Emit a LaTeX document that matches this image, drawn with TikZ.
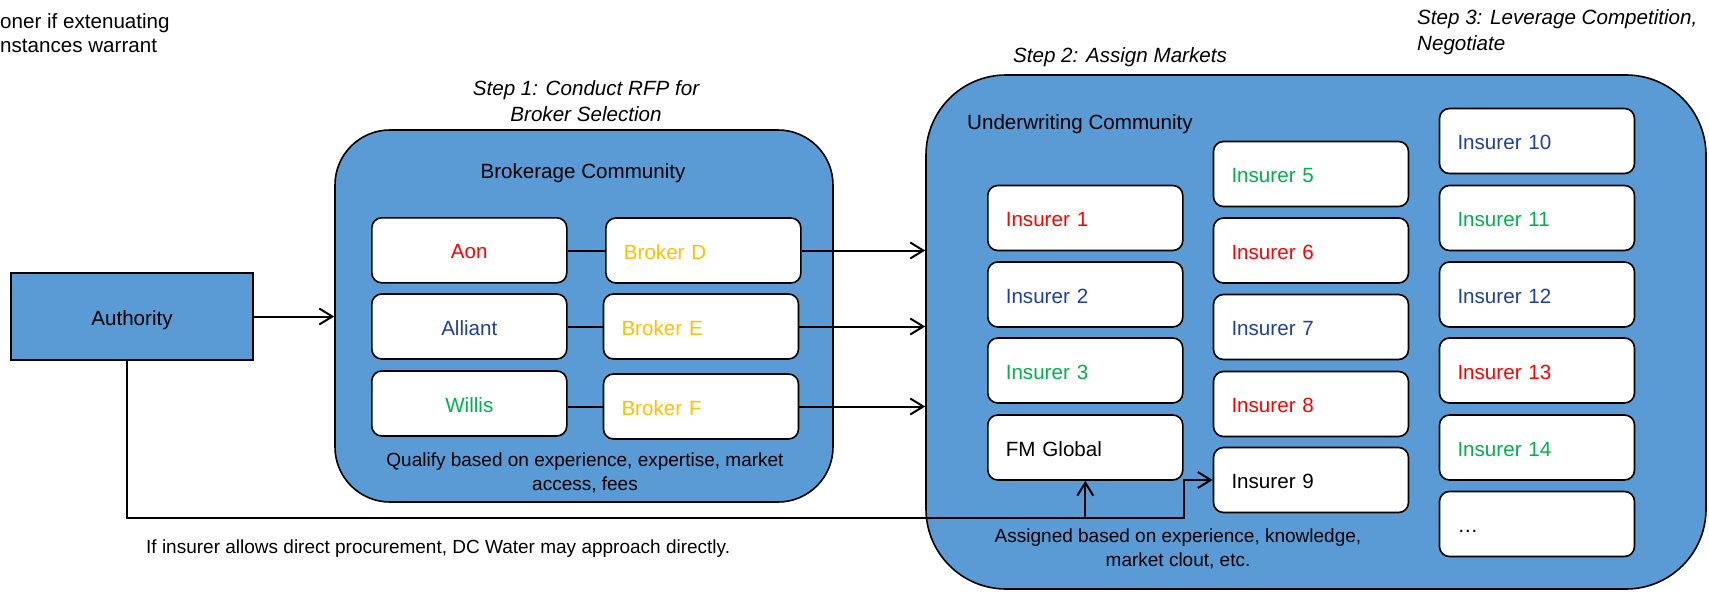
\documentclass[tikz,border=0pt]{standalone}
\usepackage{fontspec}
\setmainfont{Liberation Sans}
\usetikzlibrary{arrows.meta}
\definecolor{fillblue}{HTML}{5B9BD5}
\definecolor{tblue}{HTML}{2040A0}
\definecolor{tgreen}{HTML}{00B050}
\definecolor{tgold}{HTML}{FFC000}
\definecolor{tred}{HTML}{FF0000}
\begin{document}
\begin{tikzpicture}[x=1pt,y=-1pt,
  big/.style={font=\fontsize{20.6}{24.5}\selectfont},
  small/.style={font=\fontsize{19}{23.5}\selectfont},
  oneline/.style={text height=15pt, text depth=0pt},
  stepl/.style={font=\fontsize{20.6}{26}\selectfont\itshape, inner sep=0pt},
  community/.style={draw=black, line width=1.6pt, fill=fillblue, inner sep=0pt},
  itembox/.style={draw=black, line width=1.6pt, fill=white, rounded corners=10pt, big,
    minimum height=65pt, inner xsep=18pt, inner ysep=0pt, text width=159pt,
    text height=17pt, text depth=0pt},
  lbox/.style={itembox, align=left},
  cbox/.style={itembox, align=center},
  conn/.style={line width=2pt},
  arr/.style={conn, -{Straight Barb[length=13pt,width=16pt]}},
]
\useasboundingbox (0,0) rectangle (1709,594);

% free texts
\node[big, anchor=west, align=left, inner sep=0pt] (tl) at (0,33) {oner if extenuating\\nstances warrant};
\node[stepl, align=center] (s1) at (586,101) {Step 1: Conduct RFP for\\Broker Selection};
\node[stepl, oneline] (s2) at (1120,55) {Step 2: Assign Markets};
\node[stepl, anchor=west, align=left] (s3) at (1417,32.5) {Step 3: Leverage Competition,\\Negotiate};
\node[small, oneline, anchor=west, inner sep=0pt] (direct) at (146,546) {If insurer allows direct procurement, DC Water may approach directly.};

% authority
\node[draw=black, line width=1.6pt, fill=fillblue, minimum width=242pt, minimum height=87pt, big,
  text height=17pt, text depth=0pt] (auth) at (132,316.5) {Authority};

% brokerage community
\node[community, rounded corners=55pt, minimum width=498pt, minimum height=372pt] (brok) at (584,316) {};
\node[big, oneline, inner sep=0pt] (brokt) at (583,171) {Brokerage Community};
\node[small, align=center, inner sep=0pt] (qual) at (585,473) {Qualify based on experience, expertise, market\\access, fees};

\node[cbox, text=tred]   (aon)     at (469.3,250.3) {Aon};
\node[cbox, text=tblue]  (alliant) at (469.3,326.5) {Alliant};
\node[cbox, text=tgreen] (willis)  at (469.3,403.5) {Willis};
\node[lbox, text=tgold]  (bd) at (703.4,250.5) {Broker D};
\node[lbox, text=tgold]  (be) at (701,326.5) {Broker E};
\node[lbox, text=tgold]  (bf) at (701,406.5) {Broker F};

% underwriting community
\node[community, rounded corners=80pt, minimum width=780pt, minimum height=514pt] (uw) at (1316,332) {};
\node[big, oneline, anchor=west, inner sep=0pt] (uwt) at (967,122) {Underwriting Community};
\node[small, align=center, inner sep=0pt] (assig) at (1178,549) {Assigned based on experience, knowledge,\\market clout, etc.};

\node[lbox, text=tred]   (i1) at (1085.3,218)   {Insurer 1};
\node[lbox, text=tblue]  (i2) at (1085.3,294.5) {Insurer 2};
\node[lbox, text=tgreen] (i3) at (1085.3,370.5) {Insurer 3};
\node[lbox, text=black]  (fm) at (1085.3,447.5) {FM Global};

\node[lbox, text=tgreen] (i5) at (1311,174)   {Insurer 5};
\node[lbox, text=tred]   (i6) at (1311,250.5) {Insurer 6};
\node[lbox, text=tblue]  (i7) at (1311,327)   {Insurer 7};
\node[lbox, text=tred]   (i8) at (1311,404)   {Insurer 8};
\node[lbox, text=black]  (i9) at (1311,480)   {Insurer 9};

\node[lbox, text=tblue]  (i10) at (1537,141)   {Insurer 10};
\node[lbox, text=tgreen] (i11) at (1537,218)   {Insurer 11};
\node[lbox, text=tblue]  (i12) at (1537,294.5) {Insurer 12};
\node[lbox, text=tred]   (i13) at (1537,370.5) {Insurer 13};
\node[lbox, text=tgreen] (i14) at (1537,447.5) {Insurer 14};
\node[lbox, text=black]  (idots) at (1537,524) {…};

% connectors
\draw[arr] (auth.east) -- (auth.east -| brok.west);
\draw[conn] (aon.east |- bd.west) -- (bd.west);
\draw[conn] (alliant.east |- be.west) -- (be.west);
\draw[conn] (willis.east |- bf.west) -- (bf.west);
\draw[arr] (bd.east) -- (bd.east -| uw.west);
\draw[arr] (be.east) -- (be.east -| uw.west);
\draw[arr] (bf.east) -- (bf.east -| uw.west);

\coordinate (lowline) at (0,518);
\coordinate (jn) at (fm.south |- lowline);
\draw[conn] ([xshift=-5pt]auth.south) |- (jn);
\draw[arr] (jn) -- (fm.south);
\draw[arr] (jn) -- (jn -| fm.east) |- (i9.west);
\end{tikzpicture}
\end{document}
